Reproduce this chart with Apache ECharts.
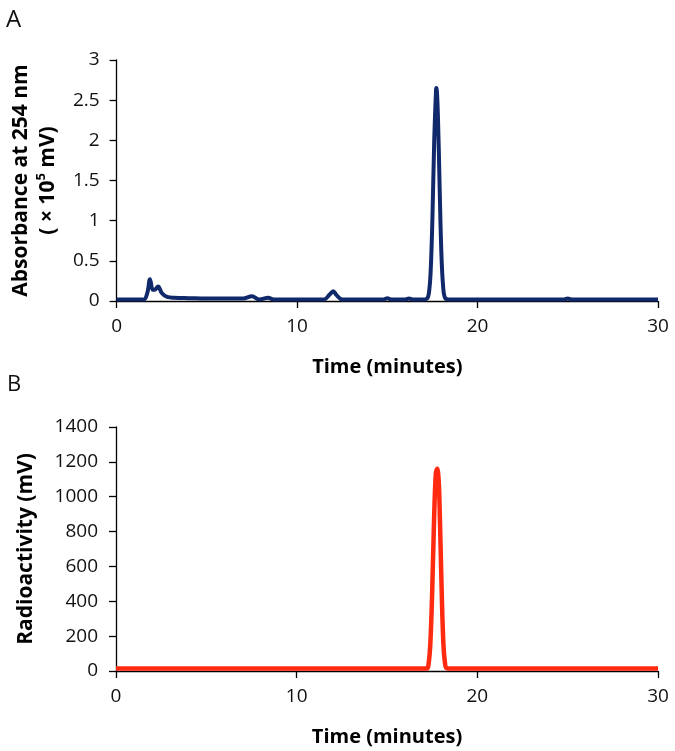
<!DOCTYPE html>
<html><head><meta charset="utf-8">
<script src="https://cdn.jsdelivr.net/npm/echarts@6/dist/echarts.min.js"></script>
<style>html,body{margin:0;padding:0;background:#fff}#c{width:675px;height:751px}</style>
</head><body><div id="c"></div>
<script>
// Panel A: UV absorbance (x 10^5 mV) vs time (minutes)
const uvTime = [0, 1.5, 1.7, 1.85, 2.0, 2.1, 2.3, 2.5, 2.8, 3.2, 4, 5, 5.5, 6, 7, 7.5, 7.9, 8.4, 8.7, 11.5, 11.8, 12.0, 12.2, 12.5, 14.8, 15.0, 15.2, 16.0, 16.2, 16.4, 17.0, 17.2, 17.3, 17.4, 17.5, 17.6, 17.7, 17.72, 17.8, 17.9, 18.0, 18.1, 18.2, 18.4, 24.8, 25.0, 25.2, 30];
const uvValue = [0.02, 0.02, 0.1, 0.27, 0.14, 0.14, 0.18, 0.1, 0.05, 0.04, 0.035, 0.03, 0.03, 0.03, 0.03, 0.06, 0.02, 0.04, 0.02, 0.02, 0.08, 0.12, 0.07, 0.02, 0.02, 0.035, 0.02, 0.02, 0.03, 0.02, 0.02, 0.03, 0.09, 0.36, 1.03, 2.0, 2.63, 2.65, 2.34, 1.41, 0.57, 0.16, 0.04, 0.02, 0.02, 0.03, 0.02, 0.02];
// Panel B: radioactivity (mV) vs time (minutes)
const radTime = [0, 17.2, 17.3, 17.4, 17.5, 17.6, 17.7, 17.78, 17.85, 17.9, 18.0, 18.1, 18.2, 18.35, 30];
const radValue = [15, 15, 40, 160, 450, 850, 1130, 1160, 1110, 990, 570, 210, 55, 15, 15];
const xTicks = [0, 10, 20, 30];
const uvTicks = [0, 0.5, 1, 1.5, 2, 2.5, 3];
const radTicks = [0, 200, 400, 600, 800, 1000, 1200, 1400];

const FONT = '"Open Sans", sans-serif';
const pair = (xs, ys) => xs.map((x, i) => [x, ys[i]]);
const axisCommon = {
  axisLine: {show: true, lineStyle: {color: '#000', width: 1.3}},
  axisTick: {show: true, inside: false, length: 7, lineStyle: {color: '#000', width: 1.3}},
  splitLine: {show: false},
  axisLabel: {color: '#111', fontSize: 19, fontFamily: FONT, formatter: (v) => String(v)}
};
const xAxis = (gi) => Object.assign({}, axisCommon, {
  type: 'value', gridIndex: gi, min: xTicks[0], max: xTicks[xTicks.length - 1], interval: 10,
  name: 'Time (minutes)', nameLocation: 'middle', nameGap: 56,
  nameTextStyle: {color: '#000', fontSize: 20, fontWeight: 'bold', fontFamily: FONT},
  axisLabel: Object.assign({}, axisCommon.axisLabel, {margin: 16})
});

const chart = echarts.init(document.getElementById('c'), null, {renderer: 'canvas'});
chart.setOption({
  animation: false,
  backgroundColor: '#fff',
  title: [
    {text: 'A', left: 1, top: 3, textStyle: {fontSize: 24, fontWeight: 'normal', color: '#111', fontFamily: FONT}},
    {text: 'B', left: 2, top: 369, textStyle: {fontSize: 22, fontWeight: 'normal', color: '#111', fontFamily: FONT}}
  ],
  grid: [
    {left: 116, top: 60, width: 542, height: 241},
    {left: 116, top: 427, width: 542, height: 244}
  ],
  xAxis: [xAxis(0), xAxis(1)],
  yAxis: [
    Object.assign({}, axisCommon, {
      type: 'value', gridIndex: 0, min: uvTicks[0], max: uvTicks[uvTicks.length - 1], interval: 0.5,
      name: 'Absorbance at 254 nm\n( × 10{sup|5} mV)', nameLocation: 'middle', nameGap: 50,
      nameTextStyle: {color: '#000', fontSize: 21, fontWeight: 'bold', fontFamily: FONT, lineHeight: 27,
        rich: {sup: {fontSize: 13, fontWeight: 'bold', fontFamily: FONT, verticalAlign: 'top', lineHeight: 18, padding: [0, 0, 8, 0]}}},
      axisLabel: Object.assign({}, axisCommon.axisLabel, {margin: 17})
    }),
    Object.assign({}, axisCommon, {
      type: 'value', gridIndex: 1, min: radTicks[0], max: radTicks[radTicks.length - 1], interval: 200,
      name: 'Radioactivity (mV)', nameLocation: 'middle', nameGap: 79,
      nameTextStyle: {color: '#000', fontSize: 21, fontWeight: 'bold', fontFamily: FONT},
      axisLabel: Object.assign({}, axisCommon.axisLabel, {margin: 18})
    })
  ],
  series: [
    {type: 'line', xAxisIndex: 0, yAxisIndex: 0, data: pair(uvTime, uvValue), showSymbol: false,
      smooth: 0.35, lineStyle: {color: '#10296b', width: 4}, z: 3},
    {type: 'line', xAxisIndex: 1, yAxisIndex: 1, data: pair(radTime, radValue), showSymbol: false,
      smooth: 0.35, lineStyle: {color: '#ff2a10', width: 4.5}, z: 3}
  ]
});
</script></body></html>
